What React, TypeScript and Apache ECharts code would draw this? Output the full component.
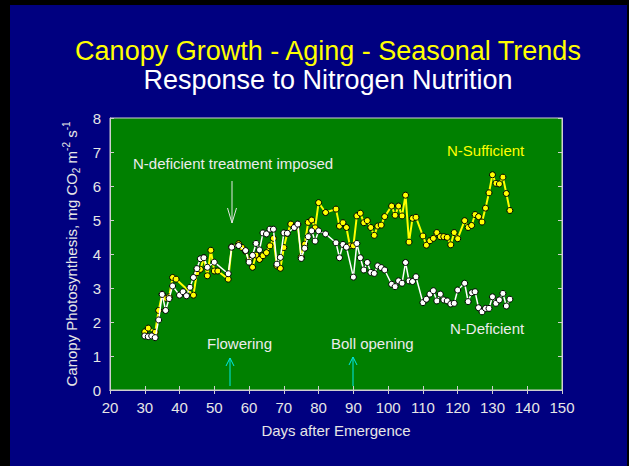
import React, { useEffect, useRef } from "react";
import * as echarts from "echarts";

const FONT = "'Liberation Sans', Arial, sans-serif";

const titleMain = "Canopy Growth - Aging - Seasonal Trends";
const titleSub = "Response to Nitrogen Nutrition";
const xAxisName = "Days after Emergence";

const xTicks = { min: 20, max: 150, interval: 10 };
const yTicks = { min: 0, max: 8, interval: 1 };

const sufficientDays = [
  30, 31, 33, 34, 35, 36, 37, 38, 39, 44, 45, 46, 47, 48, 49, 50, 51, 54, 55, 57, 58, 59, 60, 61, 62, 63,
  64, 65, 66, 67, 68, 69, 70, 71, 72, 73, 74, 75, 76, 77, 78, 79, 80, 82, 85, 86, 87, 88, 89, 90, 91, 92,
  93, 94, 95, 96, 97, 98, 99, 101, 102, 103, 104, 105, 106, 107, 108, 110, 111, 112, 113, 114, 115, 116,
  117, 118, 119, 120, 122, 123, 124, 125, 126, 127, 128, 129, 130, 131, 132, 133, 134, 135,
];
const sufficientValues = [
  1.71, 1.82, 1.7, 2.34, 2.82, 2.7, 2.74, 3.31, 3.26, 2.79, 3.45, 3.55, 3.89, 3.36, 4.11, 3.5, 3.5, 3.26,
  4.21, 4.3, 4.19, 4.08, 3.82, 3.61, 3.97, 3.84, 3.95, 4.04, 4.24, 4.46, 3.65, 3.58, 4.19, 4.61, 4.88,
  4.78, 4.86, 3.92, 4.29, 4.93, 5.0, 4.77, 5.51, 5.22, 5.32, 4.82, 4.92, 4.78, 4.24, 4.24, 5.12, 5.2,
  4.92, 4.98, 4.78, 4.55, 4.82, 4.85, 5.1, 5.41, 5.14, 5.41, 5.12, 5.73, 4.35, 5.05, 5.08, 4.53, 4.26,
  4.39, 4.46, 4.63, 4.51, 4.51, 4.49, 4.27, 4.63, 4.45, 4.98, 4.78, 4.84, 5.16, 5.1, 4.94, 5.35, 5.8,
  6.33, 6.08, 6.06, 6.26, 5.78, 5.28,
];

const deficientDays = [
  30, 31, 32, 33, 34, 35, 36, 37, 38, 40, 41, 42, 43, 44, 45, 46, 47, 48, 50, 54, 55, 57, 59, 60, 61, 62,
  63, 64, 65, 66, 67, 68, 69, 70, 71, 73, 74, 75, 76, 77, 78, 79, 80, 82, 85, 86, 87, 88, 90, 91, 92, 93,
  94, 95, 96, 97, 98, 99, 101, 102, 103, 104, 105, 106, 107, 108, 110, 111, 112, 113, 114, 115, 116, 117,
  118, 119, 120, 122, 123, 124, 125, 126, 127, 128, 129, 130, 131, 132, 133, 134, 135,
];
const deficientValues = [
  1.59, 1.57, 1.59, 1.54, 2.06, 2.81, 2.34, 2.69, 3.06, 2.79, 2.89, 2.77, 3.02, 3.31, 3.57, 3.86, 3.89,
  3.61, 3.76, 3.42, 4.2, 4.25, 4.1, 3.76, 3.96, 4.31, 4.12, 4.62, 4.59, 4.73, 4.73, 3.7, 3.9, 4.62, 4.61,
  4.78, 4.88, 3.87, 4.17, 4.51, 4.68, 4.38, 4.68, 4.59, 4.33, 3.89, 4.28, 4.2, 3.32, 4.31, 3.89, 3.53,
  3.75, 3.46, 3.43, 3.65, 3.6, 3.53, 3.11, 3.04, 3.21, 3.14, 3.75, 3.21, 3.19, 3.33, 2.57, 2.67, 2.82,
  2.92, 2.62, 2.82, 2.65, 2.62, 2.53, 2.55, 2.94, 3.14, 2.6, 2.86, 2.89, 2.42, 2.3, 2.4, 2.4, 2.74, 2.55,
  2.65, 2.84, 2.47, 2.67,
];

const annotations = [
  { text: "N-deficient treatment imposed", x: 133, y: 163, color: "#ececec" },
  { text: "N-Sufficient", x: 447, y: 150, color: "#ffff00" },
  { text: "N-Deficient", x: 450, y: 328, color: "#ececec" },
  { text: "Flowering", x: 207, y: 343, color: "#ececec" },
  { text: "Boll opening", x: 331, y: 343, color: "#ececec" },
];

function arrow(x: number, tipY: number, tailY: number, color: string, hw: number, hh: number) {
  const dir = tailY > tipY ? 1 : -1;
  return [
    { type: "line", z: 100, shape: { x1: x, y1: tailY, x2: x, y2: tipY }, style: { stroke: color, lineWidth: 1 } },
    {
      type: "polyline",
      z: 100,
      shape: { points: [[x - hw, tipY + dir * hh], [x, tipY], [x + hw, tipY + dir * hh]] },
      style: { stroke: color, lineWidth: 1, fill: null },
    },
  ];
}

export default function App() {
  const ref = useRef<HTMLDivElement>(null);
  useEffect(() => {
    if (!ref.current) return;
    const chart = echarts.init(ref.current, null, { renderer: "svg" });
    const labelColor = "#e6e6e6";
    const axisColor = "#cfcfcf";
    const commonX = {
      type: "value",
      min: xTicks.min,
      max: xTicks.max,
      interval: xTicks.interval,
      splitLine: { show: false },
      axisLine: { show: true, lineStyle: { color: axisColor, width: 1 } },
      axisTick: { show: true, inside: true, length: 4, lineStyle: { color: axisColor } },
    };
    const commonY = {
      type: "value",
      min: yTicks.min,
      max: yTicks.max,
      interval: yTicks.interval,
      splitLine: { show: false },
      axisLine: { show: true, lineStyle: { color: axisColor, width: 1 } },
      axisTick: { show: true, inside: true, length: 4, lineStyle: { color: axisColor } },
    };
    const graphics: any[] = [
      { type: "rect", z: 1, shape: { x: 0, y: 0, width: 10, height: 466 }, style: { fill: "#000000" } },
      { type: "rect", z: 1, shape: { x: 0, y: 0, width: 629, height: 5 }, style: { fill: "#000000" } },
      { type: "rect", z: 1, shape: { x: 627, y: 0, width: 2, height: 466 }, style: { fill: "#000000" } },
      { type: "rect", z: 1, shape: { x: 629, y: 0, width: 5, height: 466 }, style: { fill: "#ffffff" } },
      {
        type: "text",
        z: 100,
        style: {
          text: titleMain, x: 328, y: 51, textAlign: "center", textVerticalAlign: "middle",
          align: "center", verticalAlign: "middle", fontSize: 27, fontFamily: FONT, fill: "#ffff00",
        },
      },
      {
        type: "text",
        z: 100,
        style: {
          text: titleSub, x: 328, y: 80, textAlign: "center", textVerticalAlign: "middle",
          align: "center", verticalAlign: "middle", fontSize: 27, fontFamily: FONT, fill: "#ffffff",
        },
      },
      ...annotations.map((a) => ({
        type: "text",
        z: 100,
        style: {
          text: a.text, x: a.x, y: a.y, textAlign: "left", textVerticalAlign: "middle",
          align: "left", verticalAlign: "middle", fontSize: 15, fontFamily: FONT, fill: a.color,
        },
      })),
      ...arrow(232, 223, 181, "#e6e6e6", 4.5, 15),
      ...arrow(230, 358, 386, "#00e8e8", 4, 8),
      ...arrow(353, 357, 386, "#00e8e8", 4, 8),
    ];
    chart.setOption({
      animation: false,
      backgroundColor: "#000080",
      textStyle: { fontFamily: FONT },
      grid: {
        left: 110, right: 72, top: 118, bottom: 76,
        show: true, backgroundColor: "#008000", borderColor: axisColor, borderWidth: 1,
      },
      xAxis: [
        {
          ...commonX,
          position: "bottom",
          name: xAxisName,
          nameLocation: "middle",
          nameGap: 33,
          nameTextStyle: { color: labelColor, fontSize: 15, fontFamily: FONT },
          axisLabel: { color: labelColor, fontSize: 15, fontFamily: FONT, margin: 10 },
        },
        { ...commonX, position: "top", axisLabel: { show: false } },
      ],
      yAxis: [
        {
          ...commonY,
          position: "left",
          name: "{a|Canopy Photosynthesis, mg CO}{b|2}{a| m}{c|-2}{a| s}{c|-1}",
          nameLocation: "middle",
          nameGap: 24,
          nameTextStyle: {
            color: labelColor,
            fontFamily: FONT,
            rich: {
              a: { fontSize: 15, color: labelColor, fontFamily: FONT, lineHeight: 20 },
              b: { fontSize: 10, color: labelColor, fontFamily: FONT, lineHeight: 10, verticalAlign: "bottom" },
              c: { fontSize: 10, color: labelColor, fontFamily: FONT, lineHeight: 10, verticalAlign: "top" },
            },
          },
          axisLabel: { color: labelColor, fontSize: 15, fontFamily: FONT, margin: 9 },
        },
        { ...commonY, position: "right", axisLabel: { show: false } },
      ],
      series: [
        {
          name: "N-Sufficient",
          type: "line",
          xAxisIndex: 0,
          yAxisIndex: 0,
          data: sufficientDays.map((d, i) => [d, sufficientValues[i]]),
          symbol: "circle",
          symbolSize: 6,
          lineStyle: { color: "#ffff00", width: 2 },
          itemStyle: { color: "#ffff00", borderColor: "#000000", borderWidth: 1 },
          z: 3,
        },
        {
          name: "N-Deficient",
          type: "line",
          xAxisIndex: 0,
          yAxisIndex: 0,
          data: deficientDays.map((d, i) => [d, deficientValues[i]]),
          symbol: "circle",
          symbolSize: 6,
          lineStyle: { color: "#ffffff", width: 1.5 },
          itemStyle: { color: "#ffffff", borderColor: "#000000", borderWidth: 1 },
          z: 4,
        },
      ],
      graphic: graphics,
    });
    return () => chart.dispose();
  }, []);
  return (
    <div
      ref={ref}
      style={{ position: "absolute", left: 0, top: 0, width: 634, height: 466, background: "#ffffff" }}
    />
  );
}
